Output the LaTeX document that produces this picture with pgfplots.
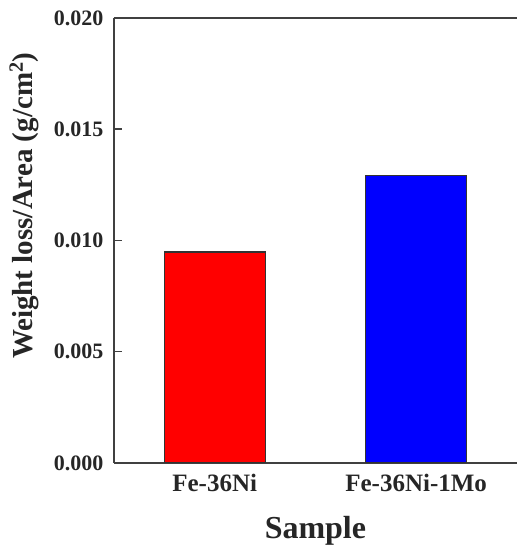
\documentclass[border=0pt]{standalone}
\usepackage{fontspec}
\setmainfont{Liberation Serif}
\usepackage{pgfplots}
\pgfplotsset{compat=1.18}

\begin{document}
\begin{tikzpicture}
\begin{axis}[
    name=ax,
    width=403pt, height=445pt, scale only axis,
    axis x line*=box, axis y line*=left,
    axis line style={line width=1.6pt, black!75},
    xmin=-0.5, xmax=1.5, ymin=0, ymax=0.020,
    xtick={0,1}, xticklabels={Fe-36Ni, Fe-36Ni-1Mo},
    xtick style={draw=none},
    ytick={0,0.005,0.010,0.015,0.020},
    scaled y ticks=false,
    yticklabel style={/pgf/number format/.cd, fixed, fixed zerofill, precision=3,
        /tikz/.cd, font=\fontsize{22}{22}\selectfont\bfseries, xshift=-7pt},
    xticklabel style={font=\fontsize{25}{25}\selectfont\bfseries, anchor=base, yshift=-29pt},
    /pgf/number format/assume math mode=true,
    tick align=inside, major tick length=8pt,
    tick style={line width=1.6pt, black!75},
    ticklabel style={text=black!85},
    xlabel={Sample},
    ylabel={Weight loss/Area (g/cm\textsuperscript{2})},
    xlabel style={font=\fontsize{32}{32}\selectfont\bfseries, text=black!85,
        at={(axis description cs:0.5,0)}, anchor=base, yshift=-76pt},
    ylabel style={font=\fontsize{29}{29}\selectfont\bfseries, text=black!85,
        at={([xshift=-90pt]axis description cs:0,0.578)}, anchor=center},
]
\addplot[ybar, bar width=101pt, bar shift=0pt, fill=red, draw=black!80, line width=1.3pt]
    coordinates {(0,0.00948)};
\addplot[ybar, bar width=101pt, bar shift=0pt, fill=blue, draw=black!80, line width=1.3pt]
    coordinates {(1,0.01292)};
\end{axis}
\path ([shift={(-114pt,-86pt)}]ax.south west) rectangle ([shift={(0.5pt,18pt)}]ax.north east);
\end{tikzpicture}
\end{document}
